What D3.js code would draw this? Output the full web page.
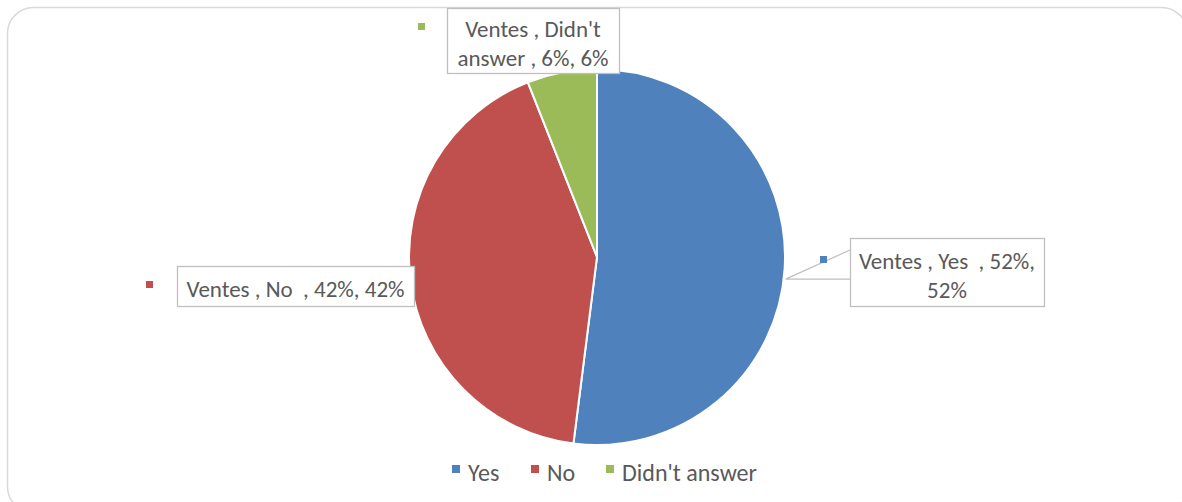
<!DOCTYPE html>
<html>
<head>
<meta charset="utf-8">
<script src="https://cdn.jsdelivr.net/npm/d3@7"></script>
<style>
  html, body { margin: 0; padding: 0; background: #fff; }
  svg { display: block; }
  text { font-family: Carlito, "Open Sans", "Liberation Sans", sans-serif; fill: #595959; white-space: pre; }
</style>
</head>
<body>
<svg id="chart" width="1182" height="502"></svg>
<script>
// Survey answers for "Ventes"
const categories = ["Yes ", "No ", "Didn't answer"];
const seriesName = "Ventes";
const values = [52, 42, 6];
const colors = ["#4F81BD", "#C0504D", "#9BBB59"];

const svg = d3.select("#chart");

// Chart area frame
svg.append("rect")
  .attr("x", 7.5).attr("y", 7.5)
  .attr("width", 1180).attr("height", 505)
  .attr("rx", 26).attr("ry", 26)
  .attr("fill", "#fff")
  .attr("stroke", "#D9D9D9")
  .attr("stroke-width", 1.5);

const cx = 597, cy = 257, r = 188;

const pie = d3.pie().sort(null).value(d => d)
  .startAngle(0).endAngle(2 * Math.PI);
const arcs = pie(values);
const arc = d3.arc().innerRadius(0).outerRadius(r);

const g = svg.append("g").attr("transform", `translate(${cx},${cy})`);
g.selectAll("path.slice")
  .data(arcs)
  .join("path")
  .attr("class", "slice")
  .attr("d", arc)
  .attr("fill", (d, i) => colors[i])
  .attr("stroke", "#fff")
  .attr("stroke-width", 2);

// Data label callouts: box geometry and line breaks per slice
const fmt = v => `${v}%`;
const boxes = [
  { x: 850, y: 238, w: 194, h: 68, lines: [`${seriesName} , ${categories[0]} , ${fmt(values[0])},`, `${fmt(values[0])}`], key: [820, 256] },
  { x: 177, y: 266, w: 237, h: 40, lines: [`${seriesName} , ${categories[1]} , ${fmt(values[1])}, ${fmt(values[1])}`], key: [146, 281] },
  { x: 447, y: 8, w: 172, h: 65, lines: [`${seriesName} , Didn't`, `answer , ${fmt(values[2])}, ${fmt(values[2])}`], key: [418, 23] }
];

// Leader for the "Yes" label: wedge from slice edge to box
const yesMid = (arcs[0].startAngle + arcs[0].endAngle) / 2;
const edge = [cx + r * Math.sin(yesMid + 0.055), cy - r * Math.cos(yesMid + 0.055)];
svg.append("path")
  .attr("d", `M${boxes[0].x},${boxes[0].y + 12}L${edge[0] + 2},${edge[1]}L${boxes[0].x},${edge[1]}`)
  .attr("fill", "none")
  .attr("stroke", "#BFBFBF")
  .attr("stroke-width", 1.2);

boxes.forEach((b, i) => {
  const lg = svg.append("g");
  lg.append("rect")
    .attr("x", b.x + 0.5).attr("y", b.y + 0.5)
    .attr("width", b.w).attr("height", b.h)
    .attr("fill", "#fff")
    .attr("stroke", "#BFBFBF")
    .attr("stroke-width", 1.3);
  const lh = 29;
  const top = b.y + b.h / 2 + 3 - (b.lines.length - 1) * lh / 2;
  b.lines.forEach((ln, k) => {
    lg.append("text")
      .attr("x", b.x + b.w / 2)
      .attr("y", top + k * lh)
      .attr("dy", "0.35em")
      .attr("text-anchor", "middle")
      .attr("font-size", 23)
      .text(ln);
  });
  lg.append("rect")
    .attr("x", b.key[0]).attr("y", b.key[1])
    .attr("width", 7).attr("height", 7)
    .attr("fill", colors[i]);
});

// Legend along the bottom
const legendX = [452, 531, 606];
const legend = svg.append("g");
categories.forEach((c, i) => {
  legend.append("rect")
    .attr("x", legendX[i]).attr("y", 465)
    .attr("width", 8).attr("height", 8)
    .attr("fill", colors[i]);
  legend.append("text")
    .attr("x", legendX[i] + 16).attr("y", 473)
    .attr("dy", "0.35em")
    .attr("font-size", 24)
    .text(c.trim());
});
</script>
</body>
</html>
